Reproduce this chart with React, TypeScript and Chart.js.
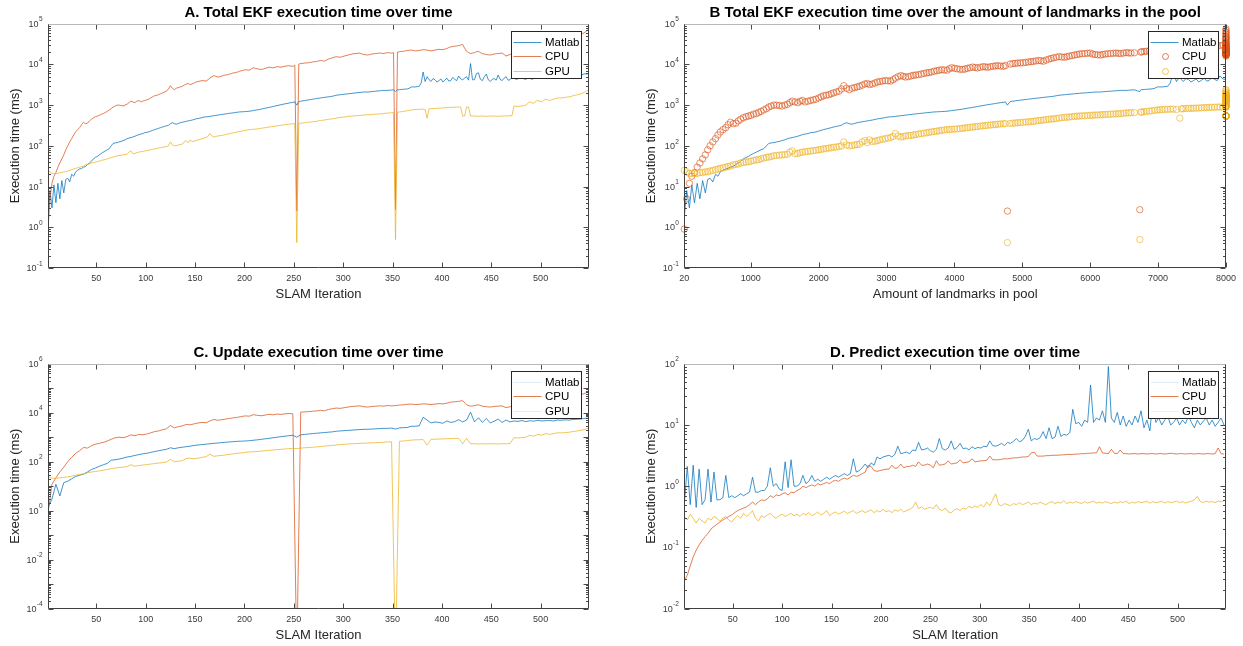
import React, { useEffect, useRef } from "react";
import { Chart, registerables } from "chart.js";
Chart.register(...registerables);

const FONT = '"Liberation Sans", Arial, Helvetica, sans-serif';
const C_MATLAB = "#0072BD";
const C_CPU = "#D95319";
const C_GPU = "#EDB120";

// ---------- Total EKF time (sampled every 2nd SLAM iteration: 1,3,5,...,549) ----------
const CPU_TOTAL = [
  0.9, 5, 12, 18, 22, 30, 38, 48, 60, 80,
  100, 125, 150, 185, 220, 250, 280, 330, 380, 350,
  360, 410, 450, 490, 520, 540, 560, 600, 620, 660,
  700, 760, 820, 900, 950, 1000, 1000, 980, 950, 1000,
  1050, 1150, 1250, 1200, 1150, 1250, 1300, 1200, 1250, 1300,
  1350, 1400, 1500, 1600, 1700, 1750, 1800, 1900, 2000, 2100,
  2200, 2500, 3000, 2600, 2400, 2600, 2700, 2800, 2900, 3100,
  3300, 3400, 3200, 3300, 3500, 3700, 3800, 3900, 4000, 3950,
  3900, 4200, 4600, 5000, 5300, 5100, 4900, 5000, 5200, 5400,
  5500, 5600, 5800, 6000, 6200, 6300, 6500, 6800, 7000, 7200,
  7400, 7300, 7200, 7800, 8300, 8000, 7800, 7600, 7500, 7700,
  8000, 8300, 8600, 8400, 8200, 8500, 8800, 8700, 8500, 8800,
  9000, 9200, 9300, 9100, 9000, 9400, 2.5, 10200, 10500, 10600,
  10800, 10900, 11000, 11200, 11500, 11700, 11800, 12200, 12500, 12300,
  12000, 12800, 13500, 14000, 14500, 15000, 15500, 15200, 15000, 15500,
  16000, 16500, 17000, 17500, 18000, 18300, 18500, 18800, 19000, 18000,
  17500, 17200, 17000, 17500, 18000, 18300, 18500, 18800, 19000, 18700,
  18500, 19000, 19500, 19200, 19000, 19300, 2.7, 20000, 20500, 20800,
  21000, 21500, 22000, 22300, 22500, 22000, 21500, 21800, 22000, 22500,
  23000, 22800, 22500, 22000, 21500, 22000, 22500, 23000, 23500, 23200,
  23000, 23800, 24500, 26000, 27000, 27500, 28000, 28500, 29000, 30000,
  31000, 25000, 21000, 19500, 18500, 19000, 19500, 20500, 21000, 19500,
  18500, 18000, 17500, 17200, 17000, 17500, 18000, 18300, 18500, 18800,
  19000, 17500, 16000, 16800, 17500, 18500, 19500, 20000, 20500, 20800,
  21000, 20500, 20000, 21000, 22000, 22500, 23000, 23500, 24000, 24500,
  25000, 25500, 26000, 26800, 27500, 28200, 29000, 30000, 31000, 32000,
  33000, 34500, 36000, 38000, 40000, 42000, 44000, 46000, 48000, 51000,
  55000, 58000, 62000, 68000, 75000,
];
const MATLAB_TOTAL = [
  1.8, 8, 3, 11, 4, 12, 5, 14, 7, 15,
  16, 13, 20, 18, 23, 25, 27, 28, 30, 31,
  35, 38, 42, 48, 52, 55, 60, 65, 70, 75,
  80, 85, 100, 115, 118, 120, 125, 128, 135, 140,
  150, 155, 160, 165, 172, 180, 188, 195, 200, 210,
  215, 220, 230, 240, 250, 260, 270, 280, 290, 300,
  310, 320, 350, 370, 350, 340, 355, 370, 380, 390,
  400, 410, 420, 430, 445, 460, 470, 480, 495, 510,
  515, 520, 530, 540, 550, 560, 570, 580, 590, 600,
  610, 620, 630, 640, 650, 660, 670, 680, 685, 690,
  695, 700, 710, 720, 735, 750, 765, 780, 800, 820,
  840, 860, 880, 900, 925, 950, 975, 1000, 1025, 1050,
  1075, 1100, 1125, 1150, 1175, 1200, 1000, 1220, 1250, 1275,
  1300, 1325, 1350, 1375, 1400, 1425, 1450, 1475, 1500, 1525,
  1550, 1575, 1600, 1625, 1650, 1700, 1750, 1775, 1800, 1825,
  1850, 1875, 1900, 1925, 1950, 1975, 2000, 2025, 2050, 2075,
  2100, 2100, 2100, 2125, 2150, 2175, 2200, 2225, 2250, 2275,
  2300, 2300, 2300, 2325, 2350, 2375, 2150, 2380, 2400, 2425,
  2450, 2475, 2500, 2600, 2800, 2800, 2800, 2850, 2900, 3500,
  6500, 3800, 5000, 4200, 3800, 4500, 4200, 3700, 4000, 4400,
  3700, 4100, 4600, 3900, 4000, 4800, 4300, 4000, 5200, 4400,
  4200, 4600, 5000, 4100, 10500, 4200, 4200, 6000, 6200, 4300,
  4000, 5000, 5800, 4200, 3800, 4300, 4500, 4100, 5500, 4300,
  4000, 4600, 5000, 4100, 4200, 4800, 4600, 4300, 4400, 4700,
  4800, 4400, 4300, 4600, 4700, 4300, 4500, 4800, 4900, 4500,
  4600, 4900, 4700, 4500, 4800, 4700, 4600, 4900, 5000, 4700,
  4900, 5200, 5100, 4900, 5000, 5200, 5300, 5100, 5400, 5300,
  5500, 5700, 5900, 5800, 6000,
];
const GPU_TOTAL = [
  25, 23, 21, 21, 21, 21, 22, 22, 23, 23,
  24, 25, 26, 27, 28, 29, 30, 31, 32, 34,
  35, 36, 38, 39, 40, 41, 42, 44, 45, 46,
  48, 50, 52, 53, 55, 57, 58, 59, 60, 61,
  62, 70, 75, 64, 65, 68, 70, 72, 73, 75,
  76, 78, 80, 82, 84, 86, 88, 90, 92, 94,
  96, 100, 125, 105, 100, 102, 105, 108, 110, 125,
  135, 120, 140, 128, 130, 135, 140, 145, 150, 155,
  160, 170, 200, 175, 165, 170, 175, 178, 180, 185,
  190, 195, 200, 205, 210, 215, 220, 225, 230, 235,
  240, 245, 250, 252, 255, 258, 260, 265, 270, 275,
  280, 285, 290, 295, 300, 305, 310, 315, 320, 325,
  330, 335, 340, 345, 350, 350, 0.42, 355, 360, 365,
  370, 375, 380, 385, 390, 395, 400, 410, 420, 425,
  430, 440, 450, 455, 460, 470, 480, 490, 500, 505,
  510, 520, 530, 535, 540, 545, 550, 555, 560, 565,
  570, 575, 580, 585, 590, 595, 600, 605, 610, 615,
  620, 630, 640, 645, 650, 655, 0.5, 670, 680, 690,
  700, 715, 730, 745, 760, 770, 780, 785, 790, 795,
  800, 780, 480, 810, 820, 825, 830, 835, 840, 845,
  850, 860, 870, 875, 880, 885, 890, 895, 900, 900,
  540, 540, 900, 900, 540, 540, 540, 540, 530, 535,
  540, 535, 530, 535, 540, 540, 540, 535, 530, 535,
  540, 540, 540, 545, 550, 550, 950, 940, 930, 940,
  950, 970, 1000, 1100, 1200, 1150, 1100, 1250, 1300, 1250,
  1200, 1300, 1400, 1350, 1300, 1350, 1400, 1450, 1500, 1500,
  1500, 1520, 1550, 1580, 1600, 1650, 1700, 1750, 1800, 1850,
  1900, 2000, 2100, 2250, 2400,
];
// landmarks in the pool at the same iterations
const LANDMARKS = [
  20, 55, 95, 130, 170, 210, 250, 290, 330, 365,
  400, 440, 480, 515, 550, 590, 630, 665, 700, 740,
  780, 815, 850, 890, 930, 965, 1000, 1040, 1080, 1115,
  1150, 1190, 1230, 1265, 1300, 1340, 1380, 1420, 1460, 1500,
  1540, 1575, 1610, 1650, 1690, 1725, 1760, 1800, 1840, 1880,
  1920, 1960, 2000, 2035, 2070, 2110, 2150, 2185, 2220, 2260,
  2300, 2335, 2370, 2410, 2450, 2490, 2530, 2565, 2600, 2640,
  2680, 2715, 2750, 2790, 2830, 2865, 2900, 2940, 2980, 3020,
  3060, 3095, 3130, 3170, 3210, 3245, 3280, 3320, 3360, 3395,
  3430, 3470, 3510, 3550, 3590, 3625, 3660, 3700, 3740, 3775,
  3810, 3850, 3890, 3925, 3960, 4000, 4040, 4080, 4120, 4155,
  4190, 4230, 4270, 4305, 4340, 4380, 4420, 4455, 4490, 4530,
  4570, 4605, 4640, 4680, 4720, 4750, 4780, 4820, 4860, 4895,
  4930, 4970, 5010, 5050, 5090, 5125, 5160, 5200, 5240, 5275,
  5310, 5350, 5390, 5425, 5460, 5500, 5540, 5580, 5620, 5655,
  5690, 5730, 5770, 5805, 5840, 5880, 5920, 5960, 6000, 6035,
  6070, 6110, 6150, 6185, 6220, 6260, 6300, 6340, 6380, 6415,
  6450, 6490, 6530, 6565, 6600, 6650, 6730, 6745, 6760, 6795,
  6830, 6870, 6910, 6950, 6990, 7025, 7060, 7100, 7140, 7180,
  7220, 7270, 7320, 7345, 7370, 7410, 7450, 7485, 7520, 7560,
  7600, 7640, 7680, 7715, 7750, 7790, 7830, 7870, 7910, 7955,
  8000, 8000, 8000, 8000, 8000, 8000, 8000, 8000, 8000, 8000,
  8000, 8000, 8000, 8000, 8000, 8000, 8000, 8000, 8000, 8000,
  8000, 8000, 8000, 8000, 8000, 8000, 8000, 8000, 8000, 8000,
  8000, 8000, 8000, 8000, 8000, 8000, 8000, 8000, 8000, 8000,
  8000, 8000, 8000, 8000, 8000, 8000, 8000, 8000, 8000, 8000,
  8000, 8000, 8000, 8000, 8000, 8000, 8000, 8000, 8000, 8000,
  8000, 8000, 8000, 8000, 8000,
];

// ---------- Update time (sampled every 4th SLAM iteration: 1,5,9,...,549) ----------
const CPU_UPDATE = [
  0.8, 12, 22, 38, 60, 100, 150, 220, 280, 380,
  360, 450, 520, 560, 620, 700, 820, 950, 1000, 950,
  1050, 1250, 1150, 1300, 1250, 1350, 1500, 1700, 1800, 2000,
  2200, 3000, 2400, 2700, 2900, 3300, 3200, 3500, 3800, 4000,
  3900, 4600, 5300, 4900, 5200, 5500, 5800, 6200, 6500, 7000,
  7400, 7200, 8300, 7800, 7500, 8000, 8600, 8200, 8800, 8500,
  9000, 9300, 9000, 0.000001, 10500, 10800, 11000, 11500, 11800, 12500,
  12000, 13500, 14500, 15500, 15000, 16000, 17000, 18000, 18500, 19000,
  17500, 17000, 18000, 18500, 19000, 18500, 19500, 19000, 19500, 20500,
  21000, 22000, 22500, 21500, 22000, 23000, 22500, 21500, 22500, 23500,
  23000, 24500, 27000, 28000, 29000, 31000, 21000, 18500, 19500, 21000,
  18500, 17500, 17000, 18000, 18500, 19000, 16000, 17500, 19500, 20500,
  21000, 20000, 22000, 23000, 24000, 25000, 26000, 27500, 29000, 31000,
  33000, 36000, 40000, 44000, 48000, 55000, 62000, 75000,
];
const MATLAB_UPDATE = [
  1.3, 3, 12, 4, 14, 16, 20, 25, 28, 31,
  38, 48, 55, 65, 75, 85, 115, 120, 128, 140,
  155, 165, 180, 195, 210, 220, 240, 260, 280, 300,
  320, 370, 340, 370, 390, 410, 430, 460, 480, 500,
  520, 540, 560, 580, 600, 620, 640, 660, 680, 690,
  700, 720, 750, 780, 820, 860, 900, 950, 1000, 1050,
  1100, 1150, 1200, 1000, 1250, 1300, 1350, 1400, 1450, 1500,
  1550, 1600, 1650, 1750, 1800, 1850, 1900, 1950, 2000, 2050,
  2100, 2100, 2150, 2200, 2250, 2300, 2300, 2350, 2150, 2400,
  2450, 2500, 2800, 2800, 2900, 6500, 5000, 3800, 4200, 4000,
  3700, 4600, 4000, 4300, 5200, 4200, 5000, 10500, 4200, 6200,
  4000, 5800, 3800, 4500, 5500, 4000, 5000, 4200, 4600, 4400,
  4800, 4300, 4700, 4500, 4900, 4600, 4700, 4800, 4600, 5000,
  4900, 5100, 5000, 5300, 5400, 5500, 5900, 6000,
];
const GPU_UPDATE = [
  25, 21, 21, 22, 23, 24, 26, 28, 30, 32,
  35, 38, 40, 42, 45, 48, 52, 55, 58, 60,
  62, 75, 65, 70, 73, 76, 80, 84, 88, 92,
  96, 125, 100, 105, 110, 135, 140, 130, 140, 150,
  160, 200, 165, 175, 180, 190, 200, 210, 220, 230,
  240, 250, 255, 260, 270, 280, 290, 300, 310, 320,
  330, 340, 350, 345, 360, 370, 380, 390, 400, 420,
  430, 450, 460, 480, 500, 510, 530, 540, 550, 560,
  570, 580, 590, 600, 610, 620, 640, 650, 0.000001, 680,
  700, 730, 760, 780, 790, 800, 480, 820, 830, 840,
  850, 870, 880, 890, 900, 540, 900, 540, 540, 530,
  540, 530, 540, 540, 530, 540, 540, 550, 950, 930,
  950, 1000, 1200, 1100, 1300, 1200, 1400, 1300, 1400, 1500,
  1500, 1550, 1600, 1700, 1800, 1900, 2100, 2400,
];

// ---------- Predict time (sampled every 3rd SLAM iteration: 1,4,7,...,547) ----------
const MATLAB_PREDICT = [
  0.5, 2.1, 0.5, 2.2, 0.45, 1.9, 0.5, 0.6, 1.9, 0.55,
  1.7, 0.6, 0.6, 0.65, 1.5, 0.65, 0.7, 0.65, 0.7, 0.75,
  0.7, 0.75, 0.8, 1.4, 0.8, 0.8, 0.85, 0.85, 1.0, 2.0,
  1.0, 1.1, 0.9, 0.85, 2.5, 0.95, 2.7, 1.0, 1.0, 1.1,
  1.5, 1.1, 1.2, 1.5, 1.2, 1.3, 1.2, 1.3, 1.4, 1.3,
  1.4, 1.5, 1.4, 1.5, 1.6, 1.5, 1.6, 2.8, 1.7, 1.8,
  2.0, 2.3, 2.0, 2.4, 2.2, 3.0, 2.8, 3.0, 3.1, 3.2,
  3.0, 3.3, 4.5, 3.4, 3.5, 3.6, 3.4, 3.9, 3.8, 5.2,
  3.9, 4.0, 4.2, 3.8, 3.6, 4.0, 6.0, 4.1, 3.9, 4.2,
  5.5, 4.0, 4.3, 5.0, 4.1, 4.2, 3.9, 4.4, 4.1, 4.3,
  4.2, 4.5, 4.4, 5.5, 4.6, 4.5, 4.7, 5.0, 4.6, 5.2,
  5.0, 5.4, 6.0, 5.3, 5.6, 6.5, 8.5, 5.5, 6.0, 5.8,
  6.2, 7.8, 6.0, 9.0, 6.0, 6.3, 9.5, 6.5, 7.0, 6.8,
  7.5, 18, 10.5, 11, 9.5, 12, 11, 45, 11, 13,
  12, 17, 11, 90, 13, 11, 16, 10, 14, 9.5,
  12, 10, 14, 11, 17, 9, 12, 8, 25, 11,
  13, 10, 12, 14, 10, 11, 13, 10, 12, 10.5,
  14, 11, 9, 12, 10, 11.5, 13, 10, 12, 9.5,
  11, 13, 10,
];
const CPU_PREDICT = [
  0.028, 0.035, 0.05, 0.07, 0.09, 0.11, 0.13, 0.15, 0.17, 0.2,
  0.22, 0.24, 0.26, 0.28, 0.3, 0.32, 0.34, 0.37, 0.4, 0.42,
  0.44, 0.46, 0.5, 0.55, 0.5, 0.55, 0.6, 0.58, 0.62, 0.7,
  0.65, 0.72, 0.7, 0.75, 0.78, 0.72, 0.8, 0.78, 0.85, 0.9,
  1.0, 0.95, 1.0, 1.05, 1.0, 1.1, 1.05, 1.1, 1.15, 1.1,
  1.2, 1.25, 1.2, 1.3, 1.35, 1.3, 1.4, 1.5, 1.45, 1.5,
  1.6, 1.7, 2.2, 2.1, 1.8, 1.75, 1.8, 1.85, 1.9, 1.9,
  2.2, 1.95, 2.0, 2.3, 2.0, 2.1, 2.1, 2.2, 2.1, 2.5,
  2.2, 2.2, 2.3, 2.2, 2.0, 2.6, 2.2, 2.25, 2.3, 2.6,
  2.3, 2.35, 2.4, 2.7, 2.4, 2.45, 2.5, 2.8, 2.5, 2.55,
  2.6, 2.6, 2.65, 3.1, 2.7, 2.7, 2.7, 2.75, 2.8, 2.8,
  2.85, 2.9, 2.9, 2.95, 3.0, 3.0, 3.05, 3.5, 3.6, 3.1,
  3.1, 3.1, 3.15, 3.15, 3.2, 3.2, 3.2, 3.25, 3.25, 3.3,
  3.3, 3.3, 3.35, 3.35, 3.4, 3.4, 3.45, 3.45, 3.5, 3.5,
  4.4, 3.5, 3.45, 3.4, 4.0, 3.45, 3.4, 3.9, 3.4, 3.4,
  3.35, 3.4, 3.4, 3.35, 3.4, 3.4, 3.35, 3.4, 3.4, 3.35,
  3.4, 3.4, 3.35, 3.4, 3.45, 3.4, 3.35, 3.4, 3.4, 3.35,
  3.4, 3.4, 3.35, 3.4, 3.4, 3.35, 3.4, 3.4, 3.35, 3.4,
  4.2, 3.4, 3.35,
];
const GPU_PREDICT = [
  0.32, 0.28, 0.35, 0.3, 0.25, 0.3, 0.27, 0.25, 0.3, 0.28,
  0.32, 0.3, 0.27, 0.3, 0.32, 0.28, 0.26, 0.3, 0.33, 0.3,
  0.36, 0.32, 0.35, 0.4, 0.3, 0.27, 0.33, 0.31, 0.34, 0.36,
  0.32, 0.3, 0.33, 0.35, 0.32, 0.34, 0.36, 0.33, 0.35, 0.32,
  0.36, 0.34, 0.37, 0.33, 0.35, 0.38, 0.34, 0.36, 0.4, 0.33,
  0.36, 0.38, 0.35, 0.37, 0.39, 0.36, 0.38, 0.4, 0.36, 0.38,
  0.4, 0.37, 0.39, 0.41, 0.37, 0.4, 0.38, 0.42, 0.38, 0.4,
  0.37, 0.41, 0.39, 0.42, 0.38, 0.4, 0.42, 0.45, 0.55, 0.43,
  0.46, 0.42, 0.44, 0.45, 0.43, 0.5, 0.42, 0.4, 0.44, 0.38,
  0.37, 0.41, 0.43, 0.4, 0.44, 0.42, 0.47, 0.44, 0.48, 0.45,
  0.5, 0.46, 0.55, 0.48, 0.6, 0.75, 0.5, 0.48, 0.52, 0.5,
  0.48, 0.52, 0.5, 0.54, 0.5, 0.52, 0.55, 0.5, 0.53, 0.51,
  0.55, 0.52, 0.5, 0.54, 0.56, 0.52, 0.55, 0.53, 0.58, 0.52,
  0.55, 0.53, 0.56, 0.54, 0.52, 0.56, 0.53, 0.55, 0.57, 0.53,
  0.55, 0.53, 0.56, 0.54, 0.52, 0.55, 0.53, 0.56, 0.54, 0.57,
  0.52, 0.55, 0.53, 0.56, 0.54, 0.55, 0.57, 0.53, 0.56, 0.54,
  0.55, 0.57, 0.53, 0.56, 0.54, 0.55, 0.57, 0.54, 0.56, 0.53,
  0.55, 0.57, 0.6, 0.68, 0.56, 0.54, 0.57, 0.55, 0.56, 0.54,
  0.57, 0.56, 0.58,
];

// iteration index for each sample
const ITER_TOTAL = CPU_TOTAL.map((_, i) => 1 + 2 * i);
const ITER_UPDATE = CPU_UPDATE.map((_, i) => 1 + 4 * i);
const ITER_PREDICT = CPU_PREDICT.map((_, i) => 1 + 3 * i);

// tick values / labels
const X_TICKS_ITER = [50, 100, 150, 200, 250, 300, 350, 400, 450, 500];
const X_TICKS_LANDMARKS = [20, 1000, 2000, 3000, 4000, 5000, 6000, 7000, 8000];
const Y_EXP_TOTAL = [-1, 0, 1, 2, 3, 4, 5];
const Y_EXP_UPDATE = [-4, -2, 0, 2, 4, 6];
const Y_EXP_PREDICT = [-2, -1, 0, 1, 2];

function rgba(hex: string, a: number) {
  const n = parseInt(hex.slice(1), 16);
  return `rgba(${(n >> 16) & 255},${(n >> 8) & 255},${n & 255},${a})`;
}

function lineDs(label: string, xs: number[], ys: number[], color: string, order: number) {
  return {
    label,
    data: xs.map((x, i) => ({ x, y: ys[i] })),
    borderColor: rgba(color, 0.75),
    borderWidth: 1,
    pointRadius: 0,
    fill: false,
    tension: 0,
    order,
  };
}
function circleDs(label: string, xs: number[], ys: number[], color: string, order: number) {
  return {
    label,
    data: xs.map((x, i) => ({ x, y: ys[i] })),
    showLine: false,
    borderColor: rgba(color, 0.8),
    backgroundColor: "rgba(0,0,0,0)",
    pointRadius: 3.2,
    pointBorderWidth: 0.8,
    pointBorderColor: rgba(color, 0.8),
    pointBackgroundColor: "rgba(0,0,0,0)",
    clip: false,
    order,
  };
}

type LegendEntry = { label: string; color: string; kind: "line" | "circle"; alpha: number };
type Panel = {
  rect: [number, number, number, number];
  padding: { left: number; top: number; right: number; bottom: number };
  title: string;
  xTitle: string;
  yTitle: string;
  xMin: number;
  xMax: number;
  yMin: number;
  yMax: number;
  xTicks: number[];
  yExps: number[];
  datasets: any[];
  legend: LegendEntry[];
};

function makePlugin(p: Panel) {
  return {
    id: "matlabAxes",
    afterDatasetsDraw(chart: any) {
      const ctx: CanvasRenderingContext2D = chart.ctx;
      const a = chart.chartArea;
      const xs = chart.scales.x;
      const ys = chart.scales.y;
      const L = Math.round(a.left) + 0.5;
      const R = Math.round(a.right) - 0.5;
      const T = Math.round(a.top) + 0.5;
      const B = Math.round(a.bottom) - 0.5;
      ctx.save();

      // legend box
      const lw = 70, lh = 47;
      const bx = Math.round(a.right - 8 - lw) + 0.5;
      const by = Math.round(a.top + 7) + 0.5;
      ctx.fillStyle = "#ffffff";
      ctx.fillRect(bx, by, lw, lh);
      ctx.strokeStyle = "#262626";
      ctx.lineWidth = 1;
      ctx.strokeRect(bx, by, lw, lh);
      ctx.font = `11.5px ${FONT}`;
      ctx.textAlign = "left";
      ctx.textBaseline = "middle";
      p.legend.forEach((e, i) => {
        const y = Math.round(by + 10 + i * 14.5) + 0.5;
        if (e.kind === "line") {
          ctx.strokeStyle = rgba(e.color, e.alpha);
          ctx.lineWidth = 1;
          ctx.beginPath();
          ctx.moveTo(bx + 2, y);
          ctx.lineTo(bx + 30, y);
          ctx.stroke();
        } else {
          ctx.strokeStyle = rgba(e.color, e.alpha);
          ctx.lineWidth = 0.9;
          ctx.beginPath();
          ctx.arc(bx + 17, y, 3, 0, Math.PI * 2);
          ctx.stroke();
        }
        ctx.fillStyle = "#000";
        ctx.fillText(e.label, bx + 33.5, y + 0.5);
      });

      // ticks
      ctx.strokeStyle = "#4a4a4a";
      ctx.lineWidth = 1;
      ctx.beginPath();
      for (const v of p.xTicks) {
        const x = Math.round(xs.getPixelForValue(v)) + 0.5;
        ctx.moveTo(x, B);
        ctx.lineTo(x, B - 5);
        ctx.moveTo(x, T);
        ctx.lineTo(x, T + 5);
      }
      const e0 = Math.round(Math.log10(p.yMin));
      const e1 = Math.round(Math.log10(p.yMax));
      for (let e = e0; e <= e1; e++) {
        const y = Math.round(ys.getPixelForValue(Math.pow(10, e))) + 0.5;
        ctx.moveTo(L, y);
        ctx.lineTo(L + 5, y);
        ctx.moveTo(R, y);
        ctx.lineTo(R - 5, y);
        if (e < e1) {
          for (let m = 2; m <= 9; m++) {
            const ym = Math.round(ys.getPixelForValue(m * Math.pow(10, e))) + 0.5;
            ctx.moveTo(L, ym);
            ctx.lineTo(L + 2.5, ym);
            ctx.moveTo(R, ym);
            ctx.lineTo(R - 2.5, ym);
          }
        }
      }
      ctx.stroke();

      // box
      ctx.strokeStyle = "#b8b8b8";
      ctx.beginPath();
      ctx.moveTo(L, T);
      ctx.lineTo(R, T);
      ctx.stroke();
      ctx.strokeStyle = "#404040";
      ctx.beginPath();
      ctx.moveTo(R, T);
      ctx.lineTo(R, B);
      ctx.lineTo(L, B);
      ctx.lineTo(L, T);
      ctx.stroke();

      // x tick labels
      ctx.fillStyle = "#3a3a3a";
      ctx.font = `9px ${FONT}`;
      ctx.textAlign = "center";
      ctx.textBaseline = "middle";
      for (const v of p.xTicks) {
        ctx.fillText(String(v), xs.getPixelForValue(v), a.bottom + 10.5);
      }
      // y tick labels 10^e
      ctx.textAlign = "right";
      for (const e of p.yExps) {
        const y = ys.getPixelForValue(Math.pow(10, e));
        const sup = String(e);
        ctx.font = `6.5px ${FONT}`;
        const ew = ctx.measureText(sup).width;
        ctx.fillText(sup, a.left - 5.5, y - 4);
        ctx.font = `9px ${FONT}`;
        ctx.fillText("10", a.left - 5.5 - ew - 0.3, y + 0.5);
      }

      // titles
      ctx.textAlign = "center";
      ctx.fillStyle = "#000";
      ctx.font = `bold 15px ${FONT}`;
      ctx.fillText(p.title, (a.left + a.right) / 2, a.top - 10.5);
      ctx.fillStyle = "#262626";
      ctx.font = `13px ${FONT}`;
      ctx.fillText(p.xTitle, (a.left + a.right) / 2, a.bottom + 26.5);
      ctx.save();
      ctx.translate(a.left - 33, (a.top + a.bottom) / 2);
      ctx.rotate(-Math.PI / 2);
      ctx.fillText(p.yTitle, 0, 0);
      ctx.restore();

      ctx.restore();
    },
  };
}

const legendLines = (mA: number, cA: number, gA: number): LegendEntry[] => [
  { label: "Matlab", color: C_MATLAB, kind: "line", alpha: mA },
  { label: "CPU", color: C_CPU, kind: "line", alpha: cA },
  { label: "GPU", color: C_GPU, kind: "line", alpha: gA },
];

const PANELS: Panel[] = [
  {
    rect: [0, 0, 620, 320],
    padding: { left: 48, top: 23.7, right: 31, bottom: 52 },
    title: "A. Total EKF execution time over time",
    xTitle: "SLAM Iteration",
    yTitle: "Execution time (ms)",
    xMin: 1, xMax: 549, yMin: 0.1, yMax: 1e5,
    xTicks: X_TICKS_ITER,
    yExps: Y_EXP_TOTAL,
    datasets: [
      lineDs("Matlab", ITER_TOTAL, MATLAB_TOTAL, C_MATLAB, 3),
      lineDs("CPU", ITER_TOTAL, CPU_TOTAL, C_CPU, 2),
      lineDs("GPU", ITER_TOTAL, GPU_TOTAL, C_GPU, 1),
    ],
    legend: legendLines(0.75, 0.75, 0.75),
  },
  {
    rect: [630, 0, 613, 320],
    padding: { left: 54.3, top: 23.7, right: 17, bottom: 52 },
    title: "B Total EKF execution time over the amount of landmarks in the pool",
    xTitle: "Amount of landmarks in pool",
    yTitle: "Execution time (ms)",
    xMin: 20, xMax: 8000, yMin: 0.1, yMax: 1e5,
    xTicks: X_TICKS_LANDMARKS,
    yExps: Y_EXP_TOTAL,
    datasets: [
      lineDs("Matlab", LANDMARKS, MATLAB_TOTAL, C_MATLAB, 3),
      circleDs("CPU", LANDMARKS, CPU_TOTAL, C_CPU, 2),
      circleDs("GPU", LANDMARKS, GPU_TOTAL, C_GPU, 1),
    ],
    legend: [
      { label: "Matlab", color: C_MATLAB, kind: "line", alpha: 0.75 },
      { label: "CPU", color: C_CPU, kind: "circle", alpha: 0.85 },
      { label: "GPU", color: C_GPU, kind: "circle", alpha: 0.85 },
    ],
  },
  {
    rect: [0, 320, 620, 326],
    padding: { left: 48, top: 43.7, right: 31, bottom: 37.3 },
    title: "C. Update execution time over time",
    xTitle: "SLAM Iteration",
    yTitle: "Execution time (ms)",
    xMin: 1, xMax: 549, yMin: 1e-4, yMax: 1e6,
    xTicks: X_TICKS_ITER,
    yExps: Y_EXP_UPDATE,
    datasets: [
      lineDs("Matlab", ITER_UPDATE, MATLAB_UPDATE, C_MATLAB, 3),
      lineDs("CPU", ITER_UPDATE, CPU_UPDATE, C_CPU, 2),
      lineDs("GPU", ITER_UPDATE, GPU_UPDATE, C_GPU, 1),
    ],
    legend: legendLines(0.12, 0.75, 0.25),
  },
  {
    rect: [630, 320, 613, 326],
    padding: { left: 54.3, top: 43.7, right: 17, bottom: 37.3 },
    title: "D. Predict execution time over time",
    xTitle: "SLAM Iteration",
    yTitle: "Execution time (ms)",
    xMin: 1, xMax: 549, yMin: 0.01, yMax: 100,
    xTicks: X_TICKS_ITER,
    yExps: Y_EXP_PREDICT,
    datasets: [
      lineDs("Matlab", ITER_PREDICT, MATLAB_PREDICT, C_MATLAB, 3),
      lineDs("CPU", ITER_PREDICT, CPU_PREDICT, C_CPU, 2),
      lineDs("GPU", ITER_PREDICT, GPU_PREDICT, C_GPU, 1),
    ],
    legend: legendLines(0.12, 0.75, 0.2),
  },
];

function PanelChart({ p }: { p: Panel }) {
  const ref = useRef<HTMLCanvasElement>(null);
  useEffect(() => {
    if (!ref.current) return;
    const chart = new Chart(ref.current, {
      type: "line",
      data: { datasets: p.datasets },
      options: {
        responsive: false,
        animation: false,
        devicePixelRatio: 1,
        events: [],
        layout: { padding: p.padding },
        plugins: {
          legend: { display: false },
          title: { display: false },
          tooltip: { enabled: false },
        },
        scales: {
          x: { type: "linear", min: p.xMin, max: p.xMax, display: false },
          y: { type: "logarithmic", min: p.yMin, max: p.yMax, display: false },
        },
      } as any,
      plugins: [makePlugin(p)],
    });
    return () => chart.destroy();
  }, [p]);
  const [l, t, w, h] = p.rect;
  return (
    <canvas
      ref={ref}
      width={w}
      height={h}
      style={{ position: "absolute", left: l, top: t, width: w, height: h }}
    />
  );
}

export default function App() {
  return (
    <div
      style={{
        position: "absolute",
        left: 0,
        top: 0,
        width: 1243,
        height: 646,
        background: "#ffffff",
        overflow: "hidden",
      }}
    >
      {PANELS.map((p, i) => (
        <PanelChart key={i} p={p} />
      ))}
    </div>
  );
}
